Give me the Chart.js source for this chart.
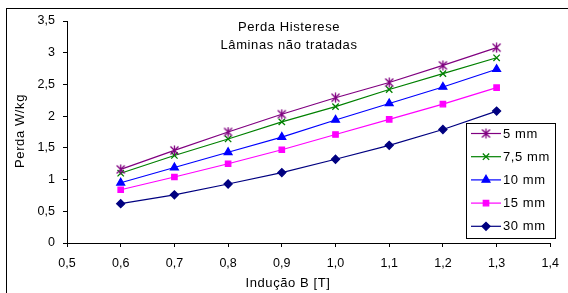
<!DOCTYPE html>
<html>
<head>
<meta charset="utf-8">
<script src="https://cdn.jsdelivr.net/npm/chart.js@4.4.0/dist/chart.umd.min.js"></script>
<style>
  html, body { margin: 0; padding: 0; background: #fff; }
  #wrap { width: 568px; height: 293px; }
</style>
</head>
<body>
<div id="wrap"><canvas id="chart" width="568" height="293"></canvas></div>
<script>
const inducao = [0.6, 0.7, 0.8, 0.9, 1.0, 1.1, 1.2, 1.3];
const perda5 = [1.16, 1.46, 1.75, 2.03, 2.29, 2.53, 2.80, 3.08];
const perda75 = [1.10, 1.38, 1.64, 1.91, 2.15, 2.42, 2.67, 2.92];
const perda10 = [0.95, 1.19, 1.43, 1.67, 1.94, 2.20, 2.46, 2.74];
const perda15 = [0.84, 1.04, 1.25, 1.47, 1.71, 1.95, 2.19, 2.45];
const perda30 = [0.62, 0.76, 0.93, 1.11, 1.32, 1.54, 1.79, 2.08];
const seriesLabels = ["5 mm", "7,5 mm", "10 mm", "15 mm", "30 mm"];
const titleLines = ["Perda Histerese", "Lâminas não tratadas"];
const xTitle = "Indução B [T]";
const yTitle = "Perda W/kg";

const FONT = "Liberation Sans, Arial, sans-serif";

// asterisk marker like Excel (x with vertical bar)
function makeStar(color) {
  const c = document.createElement("canvas");
  c.width = 11;
  c.height = 11;
  const g = c.getContext("2d");
  g.strokeStyle = color;
  g.lineWidth = 1.3;
  g.beginPath();
  g.moveTo(1.5, 1.5); g.lineTo(9.5, 9.5);
  g.moveTo(9.5, 1.5); g.lineTo(1.5, 9.5);
  g.moveTo(5.5, 0.5); g.lineTo(5.5, 10.5);
  g.stroke();
  return c;
}

function toPoints(ys) {
  return inducao.map((x, i) => ({ x: x, y: ys[i] }));
}

function makeSet(label, ys, color, style, radius) {
  return {
    label: label,
    data: toPoints(ys),
    borderColor: color,
    backgroundColor: color,
    borderWidth: 1.2,
    pointStyle: style,
    pointRadius: radius,
    pointBorderWidth: 1.3,
    pointHoverRadius: radius,
    fill: false,
    tension: 0,
  };
}

const datasets = [
  makeSet(seriesLabels[0], perda5, "#800080", makeStar("#800080"), 5),
  makeSet(seriesLabels[1], perda75, "#008000", "crossRot", 4.5),
  makeSet(seriesLabels[2], perda10, "#0000ff", "triangle", 4.5),
  makeSet(seriesLabels[3], perda15, "#ff00ff", "rect", 3.8),
  makeSet(seriesLabels[4], perda30, "#000080", "rectRot", 4),
];

// frame, titles and legend box
const decorPlugin = {
  id: "decor",
  beforeDraw(chart) {
    const ctx = chart.ctx;
    ctx.save();
    ctx.fillStyle = "#fff";
    ctx.fillRect(0, 0, chart.width, chart.height);
    ctx.strokeStyle = "#000";
    ctx.lineWidth = 1;
    ctx.strokeRect(6.5, 8.5, 600, 300);
    ctx.restore();
  },
  afterDraw(chart) {
    const ctx = chart.ctx;
    ctx.save();
    ctx.fillStyle = "#000";
    ctx.font = "13px " + FONT;
    ctx.letterSpacing = "0.6px";
    ctx.textAlign = "center";
    ctx.textBaseline = "middle";
    ctx.fillText(titleLines[0], 289, 27);
    ctx.fillText(titleLines[1], 289, 45);
    ctx.fillText(xTitle, 288, 283);

    // y axis title
    ctx.save();
    ctx.translate(20, 131);
    ctx.rotate(-Math.PI / 2);
    ctx.fillText(yTitle, 0, 0);
    ctx.restore();

    // legend
    const lx = 466, ly = 123, lw = 89, lh = 115;
    ctx.fillStyle = "#fff";
    ctx.fillRect(lx, ly, lw, lh);
    ctx.strokeStyle = "#000";
    ctx.lineWidth = 1;
    ctx.strokeRect(lx + 0.5, ly + 0.5, lw, lh);
    chart.data.datasets.forEach((ds, i) => {
      const y = 133.5 + i * 23.2;
      ctx.strokeStyle = ds.borderColor;
      ctx.lineWidth = 1.2;
      ctx.beginPath();
      ctx.moveTo(471, y);
      ctx.lineTo(501, y);
      ctx.stroke();
      ctx.fillStyle = ds.backgroundColor;
      ctx.lineWidth = 1.3;
      Chart.helpers.drawPoint(ctx, { pointStyle: ds.pointStyle, radius: ds.pointRadius, rotation: 0, borderWidth: 1.3 }, 486, y);
      ctx.fillStyle = "#000";
      ctx.textAlign = "left";
      ctx.fillText(ds.label, 503, y + 0.5);
    });
    ctx.restore();
  },
};

new Chart(document.getElementById("chart"), {
  type: "line",
  data: { datasets: datasets },
  options: {
    responsive: false,
    animation: false,
    devicePixelRatio: 1,
    layout: { padding: { left: 0, right: 8, top: 21, bottom: 0 } },
    plugins: {
      legend: { display: false },
      tooltip: { enabled: false },
    },
    scales: {
      x: {
        type: "linear",
        min: 0.5,
        max: 1.4,
        afterFit(scale) { scale.height = 50; },
        ticks: {
          stepSize: 0.1,
          color: "#000",
          padding: 9,
          font: { family: FONT, size: 12.5 },
          callback: (v) => v.toFixed(1).replace(".", ","),
        },
        grid: { drawOnChartArea: false, tickLength: 4, color: "#000" },
        border: { color: "#000", width: 1 },
      },
      y: {
        min: 0,
        max: 3.5,
        afterFit(scale) { scale.width = 67; },
        ticks: {
          stepSize: 0.5,
          color: "#000",
          padding: 8,
          font: { family: FONT, size: 12.5 },
          callback: (v) => String(v).replace(".", ","),
        },
        grid: { drawOnChartArea: false, tickLength: 4, color: "#000" },
        border: { color: "#000", width: 1 },
      },
    },
  },
  plugins: [decorPlugin],
});
</script>
</body>
</html>
